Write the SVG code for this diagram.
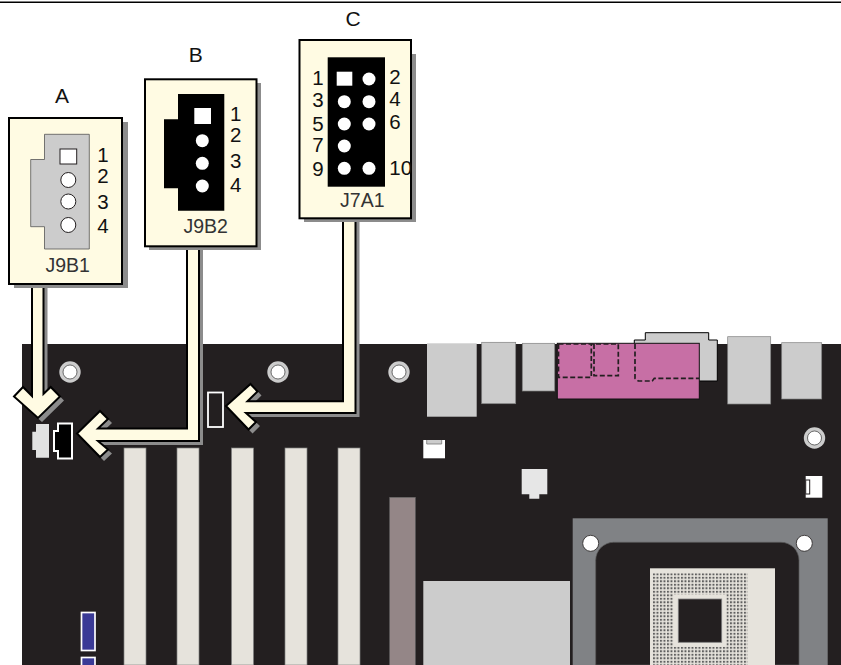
<svg xmlns="http://www.w3.org/2000/svg" width="841" height="665" viewBox="0 0 841 665">
<style>
text{font-family:"Liberation Sans",Arial,sans-serif;fill:#111}
.n{font-size:20.5px;text-anchor:middle}
.l{font-size:19.5px;text-anchor:middle;fill:#333}
.t{font-size:21px;text-anchor:middle}
.box{fill:#fffbe3;stroke:#000;stroke-width:2}
.sh{fill:#8c8c8c}
.arr{fill:#fffbe3;stroke:#000;stroke-width:2;stroke-linejoin:miter}
.g{fill:#ccc}
.pk{fill:#fff;stroke:#231f20;stroke-width:1}
.w{fill:#fff}
.hole{fill:#fff;stroke:#333;stroke-width:.7}
.ring{fill:#ccc}
.slot{fill:#e6e3dc;stroke:#808080;stroke-width:.7}
.dash{fill:none;stroke:#231f20;stroke-width:1.7;stroke-dasharray:5 2.5}
</style>
<defs>
<pattern id="pins" width="3.5" height="3.5" patternUnits="userSpaceOnUse" x="653" y="573.3">
<rect width="2" height="2" fill="#5f5f5f"/>
</pattern>
</defs>
<rect width="841" height="665" fill="#fff"/>
<path d="M0 2.2H841" stroke="#000" stroke-width="1.6"/>

<g id="board">
<rect x="22" y="344" width="819" height="321" fill="#231f20"/>
<path d="M634.3 340H645.3V332.7H708.7V340H717.3V381H634.3Z" fill="#ccc" stroke="#000" stroke-width="1"/>
<rect class="g" x="427" y="343.3" width="49.7" height="73.4"/>
<rect class="g" x="481.7" y="342.3" width="34" height="61.4" stroke="#808080" stroke-width=".7"/>
<rect class="g" x="522.3" y="343.3" width="32.4" height="47.7" stroke="#808080" stroke-width=".7"/>
<rect x="557.3" y="343.3" width="142" height="55.7" fill="#c76fa5" stroke="#111" stroke-width="1"/>
<path class="dash" d="M558.5 344V377.3H591.3V344M558.5 344H618.3M594 344V375.7H618.3V344M635 344V378.3L638.3 381H652.3L654.3 378.3H699"/>
<rect class="g" x="727.7" y="336.7" width="43" height="67.3" stroke="#808080" stroke-width=".7"/>
<rect class="g" x="781.7" y="342.7" width="40" height="56.3" stroke="#808080" stroke-width=".7"/>
<rect class="slot" x="124" y="448" width="22" height="217"/>
<rect class="slot" x="177" y="448" width="22" height="217"/>
<rect class="slot" x="231.5" y="448" width="22" height="217"/>
<rect class="slot" x="285" y="448" width="22" height="217"/>
<rect class="slot" x="338" y="448" width="22" height="217"/>
<rect x="389.7" y="497.3" width="25.6" height="168" fill="#948687" stroke="#666" stroke-width=".6"/>
<rect class="g" x="423.3" y="581" width="146.7" height="84"/>
<rect x="423.3" y="440" width="21.7" height="18.3" fill="#fff"/>
<path d="M426.7 440V444H441.7V440" fill="#ccc" stroke="#777" stroke-width=".8"/>
<path d="M521.7 469H547.3V494.3H539.3V498.7H529.3V494.3H521.7Z" fill="#e6e6e6"/>
<rect x="805.7" y="476" width="16.6" height="21.7" fill="#fff"/>
<rect x="805.7" y="480" width="4" height="14" fill="#fff" stroke="#231f20" stroke-width="1"/>
<rect x="81.5" y="612.5" width="13.5" height="38" fill="#3a3a96" stroke="#fff" stroke-width="1.7"/>
<rect x="81.5" y="657.5" width="13.5" height="12" fill="#3a3a96" stroke="#fff" stroke-width="1.7"/>
<circle class="ring" cx="70" cy="372" r="10.7"/><circle class="hole" cx="70" cy="372" r="7"/>
<circle class="ring" cx="278" cy="372" r="10.7"/><circle class="hole" cx="278" cy="372" r="7"/>
<circle class="ring" cx="399" cy="372" r="10.7"/><circle class="hole" cx="399" cy="372" r="7"/>
<circle class="ring" cx="814.5" cy="438" r="10.7"/><circle class="hole" cx="814.5" cy="438" r="7"/>
</g>

<g id="cpu-socket">
<rect x="572.7" y="518.3" width="255" height="147" fill="#808285"/>
<path d="M595.7 665V560.3A18 18 0 0 1 613.7 542.3H781A18 18 0 0 1 799 560.3V665Z" fill="#231f20" stroke="#5a5a5a" stroke-width=".7"/>
<circle cx="590.7" cy="543.3" r="8" fill="#fff" stroke="#231f20" stroke-width=".8"/>
<circle cx="804.3" cy="543.3" r="8" fill="#fff" stroke="#231f20" stroke-width=".8"/>
<rect x="650" y="568.3" width="125" height="97" fill="#e6e3dc"/>
<rect x="653" y="573.3" width="94.5" height="21" fill="url(#pins)"/>
<rect x="653" y="646.8" width="94.5" height="18.2" fill="url(#pins)"/>
<rect x="653" y="594.3" width="21" height="52.5" fill="url(#pins)"/>
<rect x="726.5" y="594.3" width="21" height="52.5" fill="url(#pins)"/>
<rect x="678.3" y="599" width="43.4" height="43.3" fill="#231f20" stroke="#808080" stroke-width=".8"/>
</g>

<g id="board-connectors">
<path d="M36 424H49V457.7H36V450H32.3V431.7H36Z" fill="#e2e2e2"/>
<path d="M58 423.5H72V458.5H58V451H54V431H58Z" fill="#000" stroke="#fff" stroke-width="2"/>
<rect x="208" y="392.5" width="15" height="34.5" fill="#231f20" stroke="#fff" stroke-width="1.8"/>
</g>

<g id="connectors">
<g transform="translate(4 4)" class="sh">
<path d="M32 284H43.5V394L50.7 387L60 396.5L38 418L14 396.5L23 387L32 396Z"/>
<path d="M187 246H199V441H98L108 449.5L100 457L77 433.5L100 411L108 419L98 428.5H187Z"/>
<path d="M343 218H355.5V413H246L256 422L248.5 429.5L226 406L250.5 384L257.5 391.5L247.5 401.3H343Z"/>
</g>
<path class="arr" d="M32 284H43.5V394L50.7 387L60 396.5L38 418L14 396.5L23 387L32 396Z"/>
<path class="arr" d="M187 246H199V441H98L108 449.5L100 457L77 433.5L100 411L108 419L98 428.5H187Z"/>
<path class="arr" d="M343 218H355.5V413H246L256 422L248.5 429.5L226 406L250.5 384L257.5 391.5L247.5 401.3H343Z"/>
</g>

<g id="callout-a">
<rect class="sh" x="14" y="122" width="114" height="166"/>
<rect class="box" x="9" y="118" width="113" height="166"/>
<path d="M44.5 134.3H89.3V249H44.5V226.7H30.7V159.5H44.5Z" fill="#ccc" stroke="#555" stroke-width=".8"/>
<rect x="60" y="149" width="16.7" height="15" fill="#fff" stroke="#231f20" stroke-width="1"/>
<circle class="pk" cx="68.3" cy="180" r="7.5"/>
<circle class="pk" cx="68.3" cy="201.5" r="7.5"/>
<circle class="pk" cx="68.3" cy="225" r="7.5"/>
<text class="n" x="103" y="162">1</text>
<text class="n" x="103" y="183">2</text>
<text class="n" x="103" y="209">3</text>
<text class="n" x="103" y="233">4</text>
<text class="l" x="67.7" y="271.7">J9B1</text>
<text class="t" x="62" y="102.7">A</text>
</g>

<g id="callout-b">
<rect class="sh" x="149" y="83" width="112" height="167"/>
<rect class="box" x="145" y="79.3" width="111.5" height="167"/>
<path d="M178 94H224.3V210.7H178V188.3H164V119.3H178Z" fill="#000"/>
<rect class="w" x="194.3" y="108" width="16.7" height="16"/>
<circle class="w" cx="202.3" cy="140.7" r="6.5"/>
<circle class="w" cx="202.3" cy="163.3" r="6.5"/>
<circle class="w" cx="202.3" cy="186" r="6.5"/>
<text class="n" x="235.7" y="120.7">1</text>
<text class="n" x="235.7" y="141.7">2</text>
<text class="n" x="235.7" y="167.7">3</text>
<text class="n" x="235.7" y="191.7">4</text>
<text class="l" x="205.7" y="232.7">J9B2</text>
<text class="t" x="195.7" y="62.3">B</text>
</g>

<g id="callout-c">
<rect class="sh" x="304" y="54" width="112" height="168"/>
<rect class="box" x="299.5" y="40" width="111.5" height="178.3"/>
<rect x="327.7" y="57.3" width="57.3" height="129.4" fill="#000"/>
<rect class="w" x="336.7" y="71.7" width="15.6" height="14"/>
<circle class="w" cx="369" cy="79" r="6.5"/>
<circle class="w" cx="344.3" cy="101.7" r="6.5"/>
<circle class="w" cx="369" cy="101.7" r="6.5"/>
<circle class="w" cx="344.3" cy="124" r="6.5"/>
<circle class="w" cx="369" cy="124" r="6.5"/>
<circle class="w" cx="344.3" cy="146" r="6.5"/>
<circle class="w" cx="344.3" cy="168.3" r="6.5"/>
<circle class="w" cx="369" cy="168.3" r="6.5"/>
<text class="n" x="318" y="85">1</text>
<text class="n" x="318" y="107">3</text>
<text class="n" x="318" y="131">5</text>
<text class="n" x="318" y="152">7</text>
<text class="n" x="318" y="175.7">9</text>
<text class="n" x="395" y="84">2</text>
<text class="n" x="395" y="106">4</text>
<text class="n" x="395" y="129">6</text>
<text class="n" x="400.7" y="175">10</text>
<text class="l" x="362.3" y="206.7">J7A1</text>
<text class="t" x="353" y="26">C</text>
</g>
</svg>
